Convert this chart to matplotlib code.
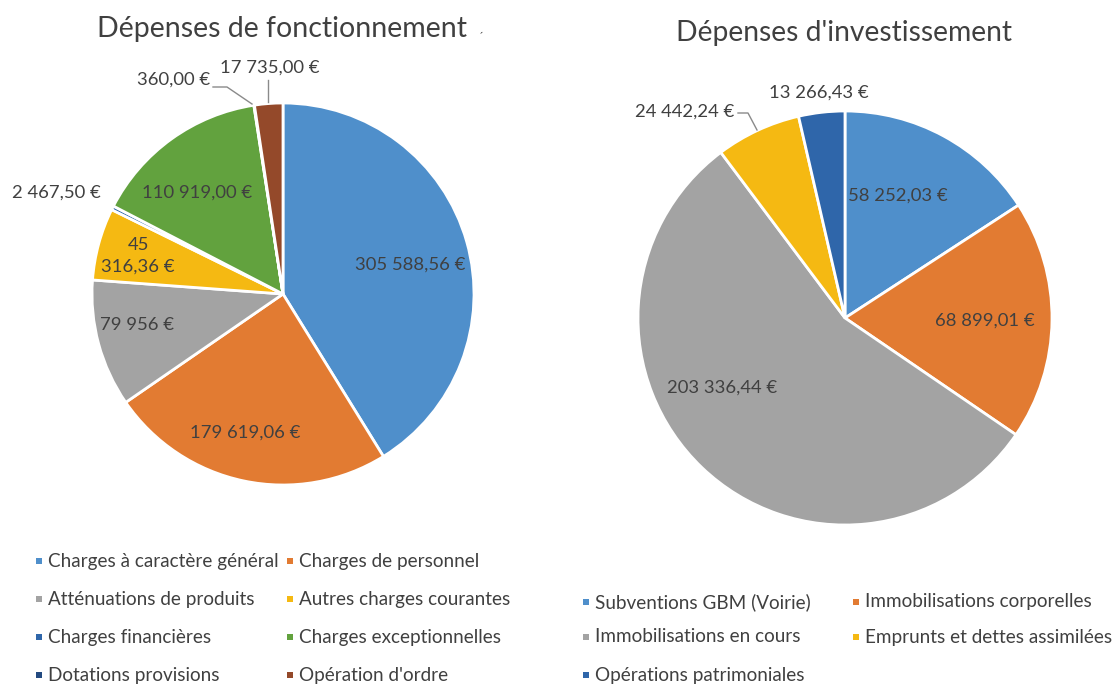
import matplotlib.pyplot as plt
from matplotlib.patches import Rectangle

W, H = 1113, 685

fonc_labels = ["Charges à caractère général", "Charges de personnel",
               "Atténuations de produits", "Autres charges courantes",
               "Charges financières", "Charges exceptionnelles",
               "Dotations provisions", "Opération d'ordre"]
fonc_values = [305588.56, 179619.06, 79956, 45316.36, 2467.50, 110919.00, 360.00, 17735.00]
fonc_texts = ["305 588,56 €", "179 619,06 €", "79 956 €", "45\n316,36 €",
              "2 467,50 €", "110 919,00 €", "360,00 €", "17 735,00 €"]
fonc_colors = ["#4f8fcb", "#e27b32", "#a3a3a3", "#f5b912",
               "#2f66aa", "#62a23e", "#234a80", "#94492a"]

inv_labels = ["Subventions GBM (Voirie)", "Immobilisations corporelles",
              "Immobilisations en cours", "Emprunts et dettes assimilées",
              "Opérations patrimoniales"]
inv_values = [58252.03, 68899.01, 203336.44, 24442.24, 13266.43]
inv_texts = ["58 252,03 €", "68 899,01 €", "203 336,44 €", "24 442,24 €", "13 266,43 €"]
inv_colors = ["#4f8fcb", "#e27b32", "#a3a3a3", "#f5b912", "#2f66aa"]

TXT = "#404040"
plt.rcParams['font.family'] = ['Lato', 'DejaVu Sans']

fig = plt.figure(figsize=(W / 100, H / 100), dpi=100)
ax = fig.add_axes([0, 0, 1, 1])


def Y(y):
    return H - y


def draw_pie(values, colors, cx, cy, r):
    ax.pie(values, colors=colors, startangle=90, counterclock=False,
           center=(cx, Y(cy)), radius=r,
           wedgeprops=dict(edgecolor="white", linewidth=2))


draw_pie(fonc_values, fonc_colors, 283, 294, 191)
draw_pie(inv_values, inv_colors, 845, 318, 207)

# data label anchors (pixel layout)
fonc_pos = [(410, 265), (245, 433), (137, 325), (138, 256),
            (56, 193), (197, 193), (174, 80), (270, 68)]
inv_pos = [(898, 196), (985, 321), (722, 388), (685, 112), (819, 93)]

for t, (x, y) in zip(fonc_texts, fonc_pos):
    ax.text(x, Y(y), t, ha="center", va="center", fontsize=13.3, color=TXT,
            linespacing=1.4)
for t, (x, y) in zip(inv_texts, inv_pos):
    ax.text(x, Y(y), t, ha="center", va="center", fontsize=13.3, color=TXT)

# leader lines
leaders = [[(213, 87), (227, 87), (252, 104)],
           [(268, 80), (268, 102)],
           [(738, 113), (748, 113), (757, 130)]]
for pts in leaders:
    ax.plot([p[0] for p in pts], [Y(p[1]) for p in pts], color="#8a8a8a", lw=1)

ax.text(282, Y(29), "Dépenses de fonctionnement", ha="center", va="center",
        fontsize=20.5, color=TXT)
ax.text(844, Y(33), "Dépenses d'investissement", ha="center", va="center",
        fontsize=20.3, color=TXT)
ax.text(482, Y(33), "-", ha="center", va="center", fontsize=7, color=TXT, rotation=40)


def legend(labels, colors, xs, ys):
    for i, (lab, col) in enumerate(zip(labels, colors)):
        x = xs[i % 2]
        y = ys[i // 2]
        ax.add_patch(Rectangle((x, Y(y) - 3), 6, 6, color=col, lw=0))
        ax.text(x + 12, Y(y), lab, ha="left", va="center", fontsize=13.6, color=TXT)


legend(fonc_labels, fonc_colors, [36, 287], [561, 599, 637, 675])
legend(inv_labels, inv_colors, [583, 853], [602, 637, 675])

ax.set_xlim(0, W)
ax.set_ylim(0, H)
ax.set_aspect("equal")
ax.axis("off")

fig.savefig("out.png", dpi=100)
